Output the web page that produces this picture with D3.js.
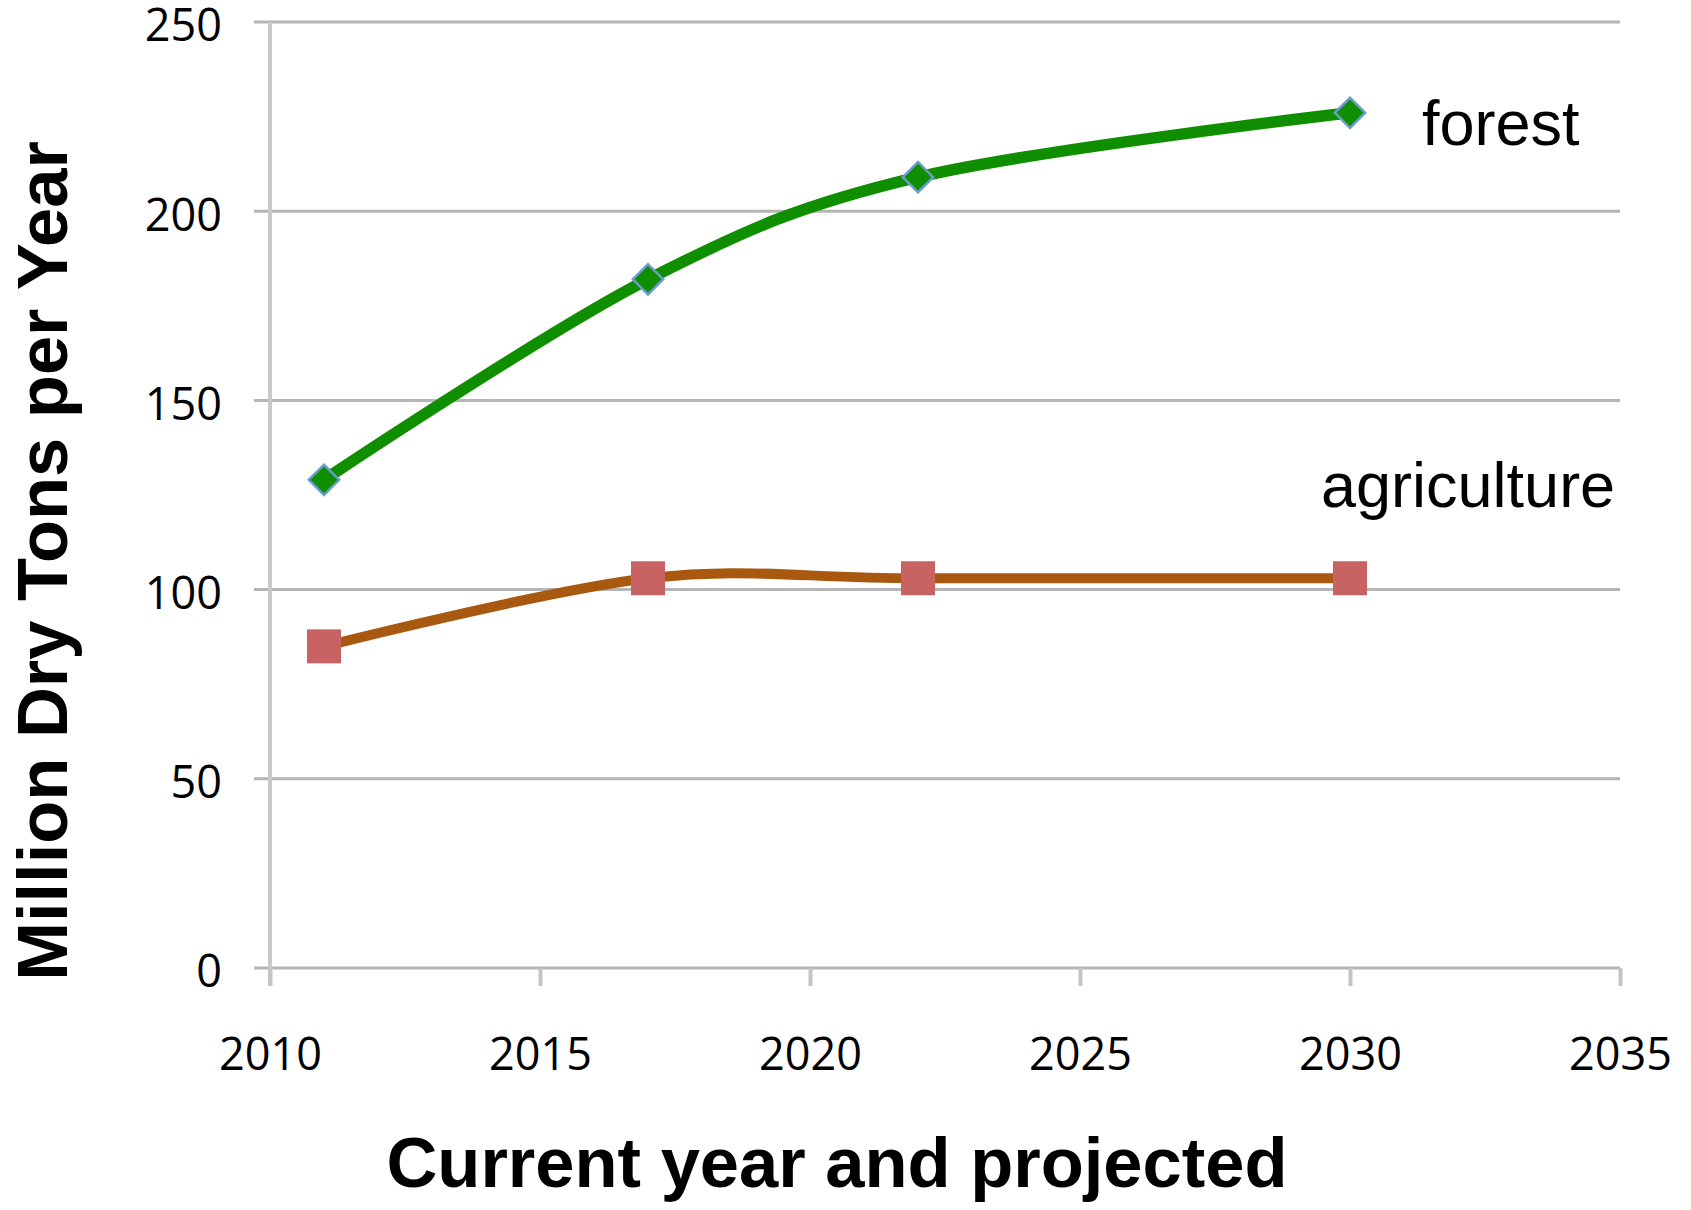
<!DOCTYPE html>
<html>
<head>
<meta charset="utf-8">
<script src="https://cdn.jsdelivr.net/npm/d3@7"></script>
<style>
  html, body { margin: 0; padding: 0; background: #fff; }
  svg { display: block; }
</style>
</head>
<body>
<svg id="chart" width="1691" height="1210"></svg>
<script>
// Biomass supply, million dry tons per year
const years = [2011, 2017, 2022, 2030];
const forest = [129, 182, 209, 226];
const agriculture = [85, 103, 103, 103];
const xTicks = [2010, 2015, 2020, 2025, 2030, 2035];
const yTicks = [0, 50, 100, 150, 200, 250];

const svg = d3.select("#chart");
const plotLeft = 270, plotRight = 1620, plotTop = 22, plotBottom = 968;

const x = d3.scaleLinear().domain([2010, 2035]).range([plotLeft, plotRight]);
const y = d3.scaleLinear().domain([0, 250]).range([plotBottom, plotTop]);

const tickFont = "'Open Sans', 'Liberation Sans', sans-serif";
const labelFont = "'Liberation Sans', Arial, sans-serif";

// horizontal gridlines
svg.append("g")
  .selectAll("line")
  .data(yTicks)
  .join("line")
  .attr("x1", plotLeft - 16).attr("x2", plotRight)
  .attr("y1", d => y(d)).attr("y2", d => y(d))
  .attr("stroke", "#b5b5b5").attr("stroke-width", 3);

// vertical axis line
svg.append("line")
  .attr("x1", plotLeft).attr("x2", plotLeft)
  .attr("y1", plotTop).attr("y2", plotBottom + 18)
  .attr("stroke", "#c9c9c9").attr("stroke-width", 4);

// x-axis
const xAxis = d3.axisBottom(x).tickValues(xTicks).tickFormat(d3.format("d"))
  .tickSize(18).tickPadding(52);
const gx = svg.append("g").attr("transform", `translate(0,${plotBottom})`).call(xAxis);
gx.select(".domain").remove();
gx.selectAll(".tick line").attr("stroke", "#c4c4c4").attr("stroke-width", 4);
gx.selectAll(".tick text")
  .attr("font-family", tickFont).attr("font-size", 45).attr("fill", "#000");

// y-axis labels
const yAxis = d3.axisLeft(y).tickValues(yTicks).tickSize(0).tickPadding(48);
const gy = svg.append("g").attr("transform", `translate(${plotLeft},0)`).call(yAxis);
gy.select(".domain").remove();
gy.selectAll(".tick line").remove();
gy.selectAll(".tick text")
  .attr("font-family", tickFont).attr("font-size", 45).attr("fill", "#000")
  .attr("dy", "0.42em");

// smoothed series lines
const line = d3.line().curve(d3.curveCardinal.tension(0));

const agriPts = years.map((yr, i) => [x(yr), y(agriculture[i])]);
const forestPts = years.map((yr, i) => [x(yr), y(forest[i])]);

svg.append("path")
  .attr("d", line(agriPts))
  .attr("fill", "none").attr("stroke", "#a8590f").attr("stroke-width", 10)
  .attr("stroke-linecap", "round");

const sq = 34;
svg.append("g").selectAll("rect")
  .data(years.map((yr, i) => ({ yr, v: agriculture[i] })))
  .join("rect")
  .attr("x", d => x(d.yr) - sq / 2).attr("y", d => y(d.v) - sq / 2)
  .attr("width", sq).attr("height", sq)
  .attr("fill", "#c96262");

svg.append("path")
  .attr("d", line(forestPts))
  .attr("fill", "none").attr("stroke", "#0f8e00").attr("stroke-width", 11.5)
  .attr("stroke-linecap", "round");

svg.append("g").selectAll("path")
  .data(years.map((yr, i) => ({ yr, v: forest[i] })))
  .join("path")
  .attr("d", d3.symbol().type(d3.symbolSquare).size(460))
  .attr("transform", d => `translate(${x(d.yr)},${y(d.v)}) rotate(45)`)
  .attr("fill", "#0f8e00").attr("stroke", "#6a9ccc").attr("stroke-width", 2.5);

// series labels
svg.append("text")
  .attr("x", 1422).attr("y", 145)
  .attr("font-family", labelFont)
  .attr("font-size", 63).attr("fill", "#000")
  .text("forest");
svg.append("text")
  .attr("x", 1321).attr("y", 507)
  .attr("font-family", labelFont)
  .attr("font-size", 63).attr("fill", "#000")
  .text("agriculture");

// axis titles
svg.append("text")
  .attr("x", 837).attr("y", 1187)
  .attr("text-anchor", "middle")
  .attr("font-family", labelFont)
  .attr("font-weight", "bold").attr("font-size", 70.5).attr("fill", "#000")
  .text("Current year and projected");

svg.append("text")
  .attr("transform", "translate(67,561) rotate(-90)")
  .attr("text-anchor", "middle")
  .attr("font-family", labelFont)
  .attr("font-weight", "bold").attr("font-size", 70.5).attr("fill", "#000")
  .text("Million Dry Tons per Year");
</script>
</body>
</html>
